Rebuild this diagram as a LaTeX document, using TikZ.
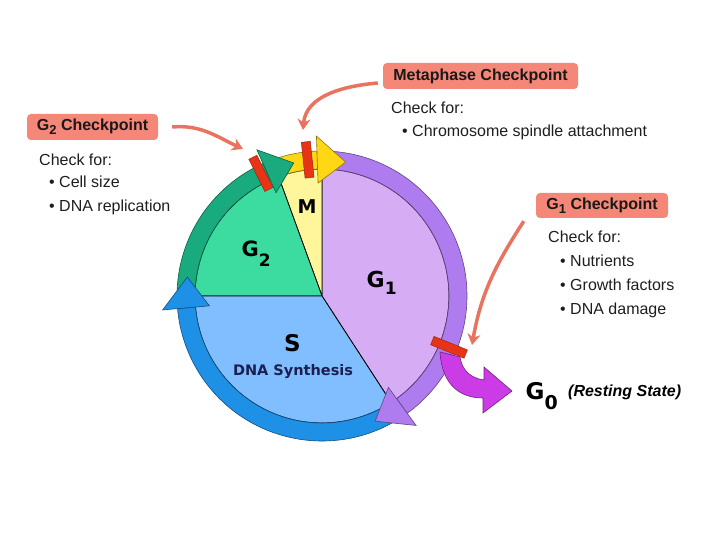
\documentclass[tikz,border=0pt]{standalone}
\usepackage{fontspec}
\setmainfont{Liberation Sans}
\newfontfamily\heavyfont{DejaVu Sans}
\usetikzlibrary{arrows.meta}

\definecolor{cpsalmon}{RGB}{245,135,120}
\definecolor{cparrow}{RGB}{232,115,95}
\definecolor{barred}{RGB}{232,52,22}
\definecolor{pieM}{RGB}{255,245,155}
\definecolor{pieGtwo}{RGB}{60,220,160}
\definecolor{pieS}{RGB}{128,190,255}
\definecolor{pieGone}{RGB}{214,172,245}
\definecolor{ringM}{RGB}{255,215,20}
\definecolor{ringGtwo}{RGB}{25,170,125}
\definecolor{ringS}{RGB}{30,144,230}
\definecolor{ringGone}{RGB}{174,124,238}
\definecolor{restarrow}{RGB}{204,60,230}
\definecolor{dnanavy}{RGB}{28,32,80}
\definecolor{textgray}{RGB}{30,30,30}

% lowered subscript: drop, size, text
\newcommand{\subtext}[3]{\raisebox{-#1}{\fontsize{#2}{#2}\selectfont #3}}

\begin{document}
\begin{tikzpicture}[x=1pt,y=1pt,
    cpbox/.style={fill=cpsalmon, rounded corners=4pt, inner sep=0pt, text=black!90,
        font=\bfseries\fontsize{16}{16}\selectfont},
    listline/.style={anchor=base west, inner sep=0pt, text=textgray,
        font=\fontsize{16}{16}\selectfont},
    phase/.style={inner sep=0pt, font=\heavyfont\bfseries},
    pointer/.style={draw=cparrow, line width=3.5pt, -{Stealth[length=11pt,width=13pt]}}]
    \useasboundingbox (0,0) rectangle (720,540);

    % pie of the four phases
    \begin{scope}[shift={(322,244)}, line width=0.8pt]
        \filldraw[fill=pieGone] (0,0) -- (-57:127) arc[start angle=-57, end angle=90, radius=127] -- cycle;
        \filldraw[fill=pieM] (0,0) -- (90:127) arc[start angle=90, end angle=110, radius=127] -- cycle;
        \filldraw[fill=pieGtwo] (0,0) -- (110:127) arc[start angle=110, end angle=180, radius=127] -- cycle;
        \filldraw[fill=pieS] (0,0) -- (180:127) arc[start angle=180, end angle=303, radius=127] -- cycle;

        % ring arrows, bodies first and heads on top
        \foreach \col/\from/\base/\tip in {ringGone/88/-54/-67, ringS/-58/-175/-188,
                                           ringGtwo/178/114/102, ringM/110/92/80}{
            \filldraw[fill=\col, draw=\col!55!black, line width=0.6pt]
                (\from:145) arc[start angle=\from, end angle=\base, radius=145]
                -- (\base:127) arc[start angle=\base, end angle=\from, radius=127] -- cycle;
        }
        \foreach \col/\from/\base/\tip in {ringGone/88/-54/-67, ringS/-58/-175/-188,
                                           ringGtwo/178/114/102, ringM/110/92/80}{
            \filldraw[fill=\col, draw=\col!55!black, line width=0.6pt]
                (\base:160) -- (\tip:136) -- (\base:113) -- cycle;
        }
    \end{scope}

    % way out to G0
    \filldraw[fill=restarrow, draw=restarrow!55!black, line width=0.6pt]
        (440,188) .. controls (442,155) and (460,142) .. (483,142) -- (483,127)
        -- (512,149) -- (484,173) -- (484,160)
        .. controls (470,162) and (462,170) .. (460,183) -- cycle;

    % checkpoint bars
    \begin{scope}[shift={(322,244)}]
        \foreach \ang in {116.5, 96, -22}{
            \filldraw[fill=barred, draw=barred!70!black, line width=0.5pt, rotate=\ang]
                (119,-4.5) rectangle (155,4.5);
        }
    \end{scope}

    % phase names
    \node[phase, anchor=base] (mlabel) at (307,326) {\fontsize{19}{19}\selectfont M};
    \node[phase, anchor=base west] (g2label) at (241.5,283)
        {\fontsize{21}{21}\selectfont G\subtext{10pt}{17}{2}};
    \node[phase, anchor=base west] (g1label) at (366.5,252)
        {\fontsize{22}{22}\selectfont G\subtext{7pt}{17}{1}};
    \node[phase, anchor=base] (slabel) at (292.5,188) {\fontsize{23}{23}\selectfont S};
    \node[phase, anchor=base, text=dnanavy] (dnalabel) at (293,164)
        {\fontsize{14.5}{14.5}\selectfont DNA Synthesis};
    \node[phase, anchor=base west] (g0label) at (525.5,140)
        {\fontsize{23}{23}\selectfont G\subtext{10pt}{19}{0}};
    \node[anchor=base west, inner sep=0pt, font=\bfseries\itshape\fontsize{16}{16}\selectfont]
        (restlabel) at (568,143) {(Resting State)};

    % checkpoints
    \node[cpbox, minimum width=131, minimum height=26] (g2cp) at (92.5,413)
        {G\subtext{4pt}{13}{2} Checkpoint};
    \node[cpbox, minimum width=195, minimum height=26] (mcp) at (480.5,464)
        {Metaphase Checkpoint};
    \node[cpbox, minimum width=132, minimum height=25] (g1cp) at (602,334.5)
        {G\subtext{4pt}{13}{1} Checkpoint};

    \node[listline] (g2check) at (39,374) {Check for:};
    \foreach \item [count=\k] in {Cell size, DNA replication}
        \node[listline] (g2item\k) at (49,376-24*\k) {\textbullet\ \item};
    \node[listline] (mcheck) at (391,426) {Check for:};
    \node[listline] (mitem1) at (402,403) {\textbullet\ Chromosome spindle attachment};
    \node[listline] (g1check) at (548,297) {Check for:};
    \foreach \item [count=\k] in {Nutrients, Growth factors, DNA damage}
        \node[listline] (g1item\k) at (560,297-24*\k) {\textbullet\ \item};

    % pointers to the bars
    \coordinate (g2tip) at (243,391);
    \coordinate (mtip) at (303,410);
    \coordinate (g1tip) at (472,195);
    \draw[pointer] ([xshift=14pt]g2cp.east) to[out=5, in=155] (g2tip);
    \draw[pointer] ([xshift=-5pt, yshift=-7pt]mcp.west) to[out=185, in=85] (mtip);
    \draw[pointer] ([xshift=-12pt, yshift=-3pt]g1cp.south west) to[out=237, in=80] (g1tip);
\end{tikzpicture}
\end{document}
